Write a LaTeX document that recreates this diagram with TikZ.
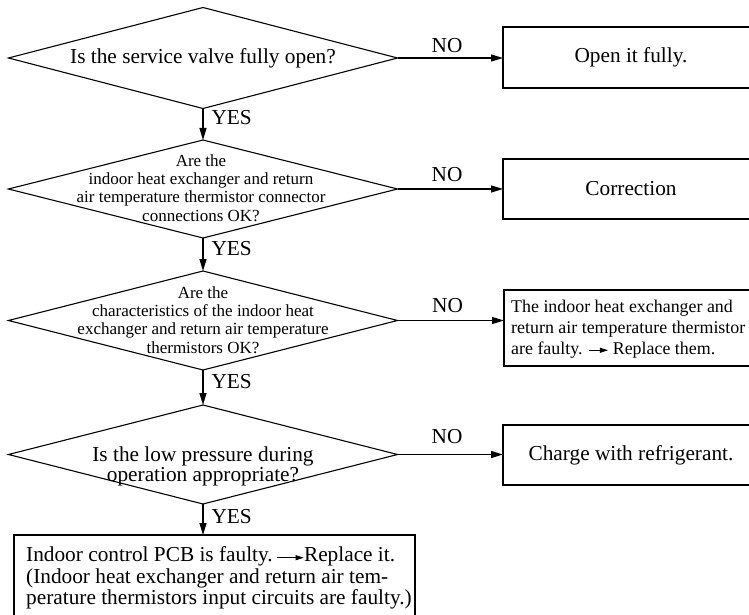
\documentclass[tikz,border=0pt]{standalone}
\usepackage{fontspec}
\setmainfont{Liberation Serif}
\usetikzlibrary{shapes.geometric,arrows.meta}

% small in-line arrow used inside box texts
\newcommand{\inarrow}[1]{\tikz[x=1pt,y=1pt,baseline=-4pt]\draw[line width=0.8pt,-{Triangle[length=8pt,width=5pt]}] (0pt,0pt) -- (#1pt,0pt);}

\begin{document}
\begin{tikzpicture}[x=1pt,y=-1pt,line width=1.1pt,
  arr/.style={-{Triangle[length=12pt,width=7pt]}},
  dia/.style={draw,diamond,inner sep=0pt,outer sep=0pt,minimum width=389pt},
  box/.style={draw,rectangle,inner sep=0pt,outer sep=0pt,minimum width=256pt},
  big/.style={font=\fontsize{21.3}{22}\selectfont},
  mid/.style={font=\fontsize{17}{18.3}\selectfont},
  lab/.style={big,inner sep=0pt,anchor=base},
  yeslab/.style={big,inner sep=0pt,anchor=base west}]
\clip (0,0) rectangle (749,615);

% decisions
\node[dia,minimum height=101pt] (d1) at (203,58) {};
\node[big] (t1) at (203,58) {Is the service valve fully open?};

\node[dia,minimum height=98pt] (d2) at (203,189) {};
\node[mid,align=center] (t2) at (201,188) {Are the\\indoor heat exchanger and return\\air temperature thermistor connector\\connections OK?};

\node[dia,minimum height=99pt] (d3) at (203,320.5) {};
\node[mid,align=center] (t3) at (203,320) {Are the\\characteristics of the indoor heat\\exchanger and return air temperature\\thermistors OK?};

\node[dia,minimum height=99pt] (d4) at (203,454.5) {};
\node[big,align=center,font=\fontsize{21.3}{20}\selectfont] (t4) at (203,466) {Is the low pressure during\\operation appropriate?};

% actions
\node[box,minimum height=61pt,big] (b1) at (631,57.5) {Open it fully.};
\node[box,minimum height=60pt,big] (b2) at (631,189) {Correction};
\node[box,minimum height=76pt] (b3) at (632,328) {};
\node[font=\fontsize{17.9}{21}\selectfont,align=left,anchor=west,inner sep=0pt] (t5) at (511,329)
  {The indoor heat exchanger and\\return air temperature thermistor\\are faulty. \inarrow{19} Replace them.};
\node[box,minimum height=60pt,big] (b4) at (631,455) {Charge with refrigerant.};

\node[draw,rectangle,inner sep=0pt,outer sep=0pt,minimum width=401pt,minimum height=90pt,anchor=north west] (pcb) at (14,535) {};
\node[font=\fontsize{21.3}{21.5}\selectfont,align=left,anchor=north west,inner sep=0pt] (t6) at (26,546.5)
  {Indoor control PCB is faulty.\,\inarrow{27}Replace it.\\(Indoor heat exchanger and return air tem-\\perature thermistors input circuits are faulty.)};

% YES branches
\draw[arr] (d1.south) -- (d2.north);
\draw[arr] (d2.south) -- (d3.north);
\draw[arr] (d3.south) -- (d4.north);
\draw[arr] (d4.south) -- (d4.south |- pcb.north);
\node[yeslab] at ([xshift=8pt,yshift=-16pt]d1.south) {YES};
\node[yeslab] at ([xshift=8pt,yshift=-17pt]d2.south) {YES};
\node[yeslab] at ([xshift=8pt,yshift=-18pt]d3.south) {YES};
\node[yeslab] at ([xshift=8pt,yshift=-19pt]d4.south) {YES};

% NO branches
\draw[arr] (d1.east) -- (d1.east -| b1.west) node[lab,pos=0.47,yshift=5.5pt] {NO};
\draw[arr] (d2.east) -- (d2.east -| b2.west) node[lab,pos=0.47,yshift=8pt] {NO};
\draw[arr] (d3.east) -- (d3.east -| b3.west) node[lab,pos=0.47,yshift=8pt] {NO};
\draw[arr] (d4.east) -- (d4.east -| b4.west) node[lab,pos=0.47,yshift=11pt] {NO};
\end{tikzpicture}
\end{document}
